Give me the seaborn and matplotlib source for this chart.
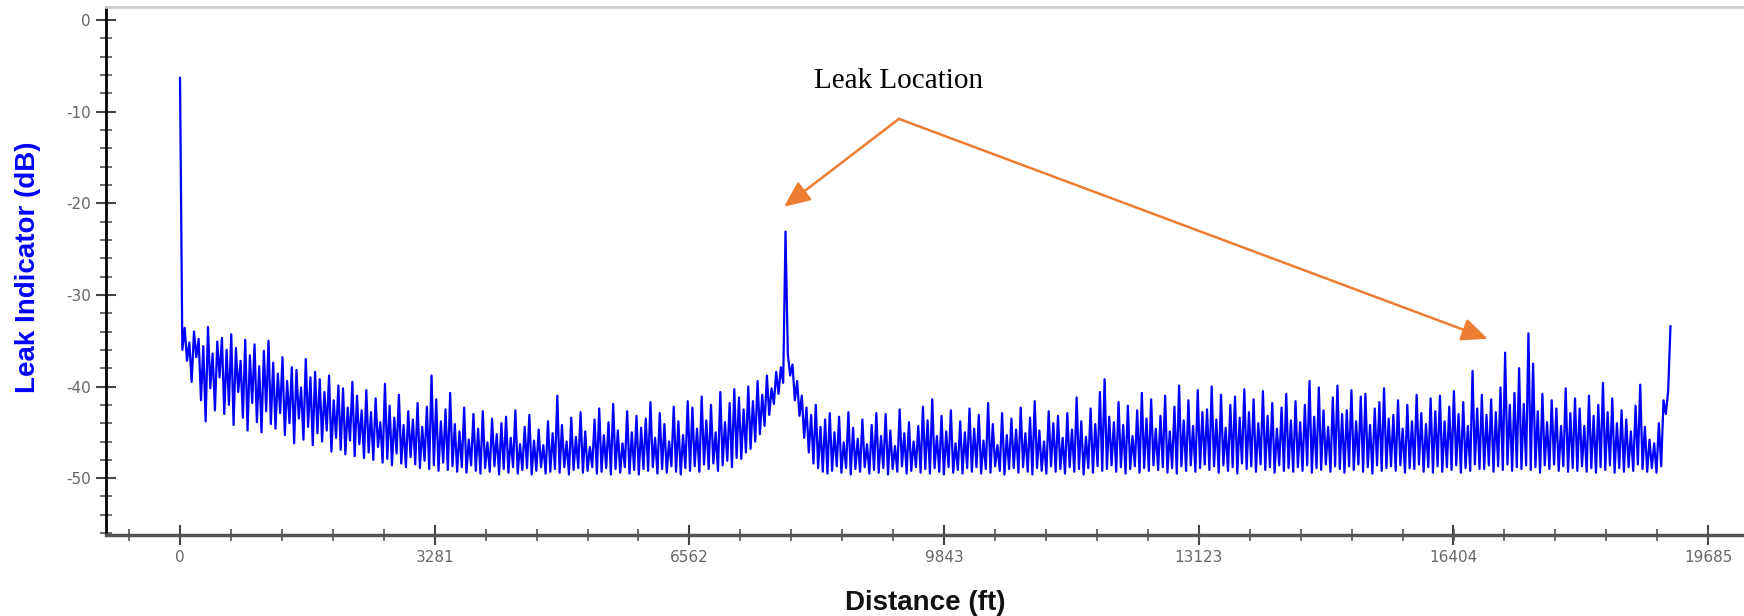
# Leak indicator vs distance trace, with the two "Leak Location" call-outs

import numpy as np
import pandas as pd
import matplotlib
matplotlib.use("Agg")
import matplotlib.pyplot as plt
from matplotlib.ticker import MultipleLocator
import seaborn as sns

sns.set_style("ticks")

step_ft = 30
level_db = [
    -6.3, -36.0, -33.6, -37.2, -35.2, -39.5, -34.0, -36.8, -34.8, -41.5, -35.6, -43.8, -33.5, -40.2, -36.4, -42.6, -35.1, -39.0, -34.7, -43.0,
    -36.0, -42.0, -34.3, -44.2, -35.8, -40.6, -37.2, -43.4, -34.9, -44.8, -36.6, -41.8, -35.4, -43.9, -37.8, -45.0, -36.1, -42.7, -35.0, -44.1,
    -37.4, -44.6, -38.6, -42.9, -36.8, -45.3, -39.4, -44.0, -37.9, -46.2, -38.2, -43.5, -40.1, -45.8, -37.0, -44.4, -39.0, -46.4, -38.4, -45.1,
    -39.2, -46.0, -40.6, -44.8, -38.8, -47.1, -41.5, -45.6, -39.9, -46.9, -40.2, -47.4, -42.3, -45.9, -39.5, -47.6, -41.0, -46.3, -42.6, -47.8,
    -40.4, -47.2, -42.8, -48.0, -41.3, -46.6, -43.9, -48.3, -39.7, -47.9, -42.1, -48.6, -43.4, -47.3, -40.9, -48.4, -44.2, -48.8, -42.7, -47.7,
    -43.6, -48.5, -41.8, -48.9, -44.4, -48.1, -42.2, -49.0, -38.8, -48.6, -41.4, -49.2, -43.8, -48.3, -42.5, -49.1, -40.7, -48.7, -44.1, -49.3,
    -44.9, -48.8, -42.3, -49.4, -45.8, -48.6, -43.0, -49.2, -44.6, -49.5, -42.7, -48.9, -46.1, -49.3, -43.5, -48.7, -45.2, -49.6, -44.0, -49.0,
    -43.3, -49.4, -45.6, -48.8, -42.6, -49.5, -46.3, -49.1, -44.4, -48.9, -43.1, -49.6, -45.9, -49.2, -44.7, -48.8, -46.4, -49.5, -43.8, -49.3,
    -45.1, -49.0, -41.0, -49.4, -44.2, -48.8, -46.0, -49.6, -43.4, -49.1, -45.5, -48.9, -42.8, -49.4, -44.9, -49.2, -46.6, -48.8, -43.6, -49.5,
    -42.4, -49.3, -45.3, -48.9, -43.9, -49.6, -41.9, -49.0, -44.8, -49.4, -46.2, -48.8, -42.7, -49.5, -45.0, -49.1, -43.2, -49.6, -44.5, -49.0,
    -43.5, -49.2, -41.7, -48.8, -45.6, -49.5, -42.9, -49.0, -44.1, -49.4, -46.0, -48.7, -42.2, -49.3, -43.8, -49.6, -45.3, -48.9, -41.6, -49.2,
    -42.3, -48.7, -44.6, -49.3, -41.1, -48.5, -43.7, -49.0, -42.0, -48.4, -45.0, -49.2, -40.6, -48.6, -43.9, -48.1, -41.8, -48.8, -40.3, -47.8,
    -41.2, -47.9, -42.5, -47.2, -40.0, -46.8, -41.6, -46.0, -39.4, -45.2, -40.9, -44.3, -38.8, -43.1, -40.2, -41.9, -38.4, -40.8, -37.9, -39.6,
    -23.1, -36.5, -38.8, -37.6, -41.5, -39.4, -43.2, -41.0, -45.6, -42.3, -47.2, -43.1, -48.4, -42.0, -48.9, -44.4, -49.3, -43.6, -49.5, -42.9,
    -49.2, -45.0, -48.7, -43.3, -49.4, -46.1, -48.9, -42.8, -49.6, -44.5, -49.0, -45.7, -49.3, -43.6, -48.8, -46.3, -49.5, -44.2, -49.1, -42.9,
    -49.4, -45.4, -48.9, -43.0, -49.6, -44.8, -49.0, -46.5, -49.3, -42.5, -48.7, -45.1, -49.5, -43.9, -49.2, -46.0, -48.8, -44.3, -49.4, -42.2,
    -49.0, -43.7, -49.5, -41.4, -48.9, -45.4, -49.3, -43.2, -49.6, -44.9, -48.8, -42.6, -49.4, -46.2, -49.1, -43.8, -49.5, -45.0, -48.9, -42.4,
    -49.3, -44.6, -48.8, -43.1, -49.5, -45.9, -49.0, -41.8, -49.4, -44.1, -48.7, -46.4, -49.2, -42.9, -49.6, -45.3, -49.0, -43.5, -48.9, -44.7,
    -49.4, -42.3, -48.8, -45.1, -49.3, -43.4, -49.6, -41.6, -48.9, -44.8, -49.2, -46.0, -49.5, -42.7, -48.7, -44.0, -49.3, -43.2, -49.0, -45.6,
    -49.5, -42.9, -48.8, -44.7, -49.3, -41.2, -49.0, -43.8, -49.6, -45.5, -48.9, -42.4, -49.4, -44.1, -48.7, -40.6, -49.2, -39.2, -49.0, -43.3,
    -48.6, -43.9, -49.3, -41.7, -48.8, -44.2, -49.5, -42.1, -49.0, -45.4, -48.7, -42.6, -49.4, -40.7, -48.9, -43.5, -49.2, -41.4, -48.6, -44.6,
    -49.1, -43.2, -48.8, -41.0, -49.4, -44.9, -48.9, -42.2, -49.5, -39.9, -48.7, -43.7, -49.2, -41.5, -48.6, -44.3, -49.3, -40.4, -48.9, -42.8,
    -48.5, -42.5, -49.1, -40.0, -48.7, -43.6, -49.4, -40.9, -48.6, -44.5, -49.2, -42.0, -48.8, -41.1, -49.5, -43.4, -48.4, -40.3, -49.0, -42.8,
    -48.7, -41.4, -49.3, -44.0, -48.5, -40.5, -49.1, -43.2, -48.8, -41.8, -49.4, -44.6, -48.6, -42.3, -49.2, -40.8, -48.9, -43.7, -49.3, -41.6,
    -48.8, -43.9, -49.2, -42.0, -48.6, -39.4, -49.4, -43.3, -48.9, -40.1, -49.1, -42.6, -48.5, -44.4, -49.3, -41.2, -48.7, -39.9, -49.0, -43.0,
    -49.4, -42.6, -48.7, -40.4, -49.1, -43.8, -48.5, -41.1, -49.3, -40.8, -48.8, -44.2, -49.5, -42.4, -48.6, -41.7, -49.2, -40.2, -48.9, -43.5,
    -48.7, -43.1, -49.2, -41.5, -48.6, -44.6, -49.4, -42.0, -48.9, -43.8, -49.0, -40.9, -48.5, -42.9, -49.3, -44.1, -48.8, -41.3, -49.4, -42.7,
    -48.7, -41.0, -49.3, -43.8, -48.8, -42.2, -49.1, -40.5, -48.6, -43.0, -49.4, -41.7, -48.9, -44.3, -49.2, -38.3, -48.5, -42.4, -49.0, -40.9,
    -49.0, -43.1, -48.6, -41.4, -49.3, -42.8, -48.7, -40.1, -49.1, -36.3, -48.5, -42.0, -49.2, -40.7, -48.8, -38.0, -49.0, -41.9, -48.6, -34.2,
    -49.1, -37.5, -48.8, -42.7, -49.4, -40.8, -48.6, -43.9, -49.0, -41.5, -48.5, -42.4, -49.2, -44.3, -48.7, -40.2, -49.3, -42.9, -48.9, -41.3,
    -49.2, -42.4, -48.7, -44.3, -49.3, -41.0, -48.9, -43.2, -49.4, -42.0, -48.8, -39.6, -49.1, -42.8, -48.6, -41.3, -49.4, -44.0, -48.9, -42.6,
    -49.3, -43.6, -48.8, -44.9, -49.2, -42.1, -48.5, -39.8, -49.0, -44.4, -49.3, -45.8, -48.9, -46.2, -49.4, -44.0, -48.7, -41.5, -43.0, -40.5,
    -33.4,
]

distance_ticks = [0, 3281, 6562, 9843, 13123, 16404, 19685]
level_ticks = [0, -10, -20, -30, -40, -50]

# call-out anchors in data units (ft, dB)
label_pos = (9261, -6.7)
arrow_tail = (9261, -10.8)
arrow_heads = [(7780, -20.4), (16847, -34.8)]

df = pd.DataFrame({"Distance": np.arange(len(level_db)) * step_ft,
                   "Level": level_db})

fig = plt.figure(figsize=(17.44, 6.16), dpi=100)
ax = fig.add_axes([0.0608, 0.1315, 0.9392, 0.8571])

sns.lineplot(data=df, x="Distance", y="Level", color="#0000ff",
             lw=1.6, ax=ax)

ax.set_xlim(-953, 20147)
ax.set_ylim(-56.2, 1.4)
ax.set_xticks(distance_ticks, labels=[str(v) for v in distance_ticks])
ax.set_yticks(level_ticks, labels=[str(v) for v in level_ticks])
ax.xaxis.set_minor_locator(MultipleLocator(656.2))
ax.yaxis.set_minor_locator(MultipleLocator(2))
ax.tick_params(which="major", direction="inout", length=14, width=1.5,
               color="#444444", labelsize=11, labelcolor="#666666", pad=4)
ax.tick_params(which="minor", direction="inout", length=9, width=1.2,
               color="#555555")

ax.spines["left"].set_color("black")
ax.spines["left"].set_linewidth(2)
ax.spines["bottom"].set_color("#555555")
ax.spines["bottom"].set_linewidth(2.5)
ax.spines["top"].set_color("#cccccc")
ax.spines["top"].set_linewidth(2)
ax.spines["right"].set_visible(False)

ax.set_xlabel("Distance (ft)", fontsize=20, fontweight="bold",
              color="#111111", family="Liberation Sans", labelpad=18)
ax.set_ylabel("Leak Indicator (dB)", fontsize=20, fontweight="bold",
              color="#0000ff", family="Liberation Sans")
ax.yaxis.set_label_coords(-0.040, 0.508)

ax.text(*label_pos, "Leak Location", ha="center", va="center",
        fontsize=21, family="Liberation Serif", color="black")
for head in arrow_heads:
    ax.annotate("", xy=head, xytext=arrow_tail,
                arrowprops=dict(arrowstyle="-|>,head_length=0.8,head_width=0.35",
                                color="#ED7D31", lw=1.8, shrinkA=0, shrinkB=0,
                                mutation_scale=20))

fig.savefig("out.png", dpi=100)
